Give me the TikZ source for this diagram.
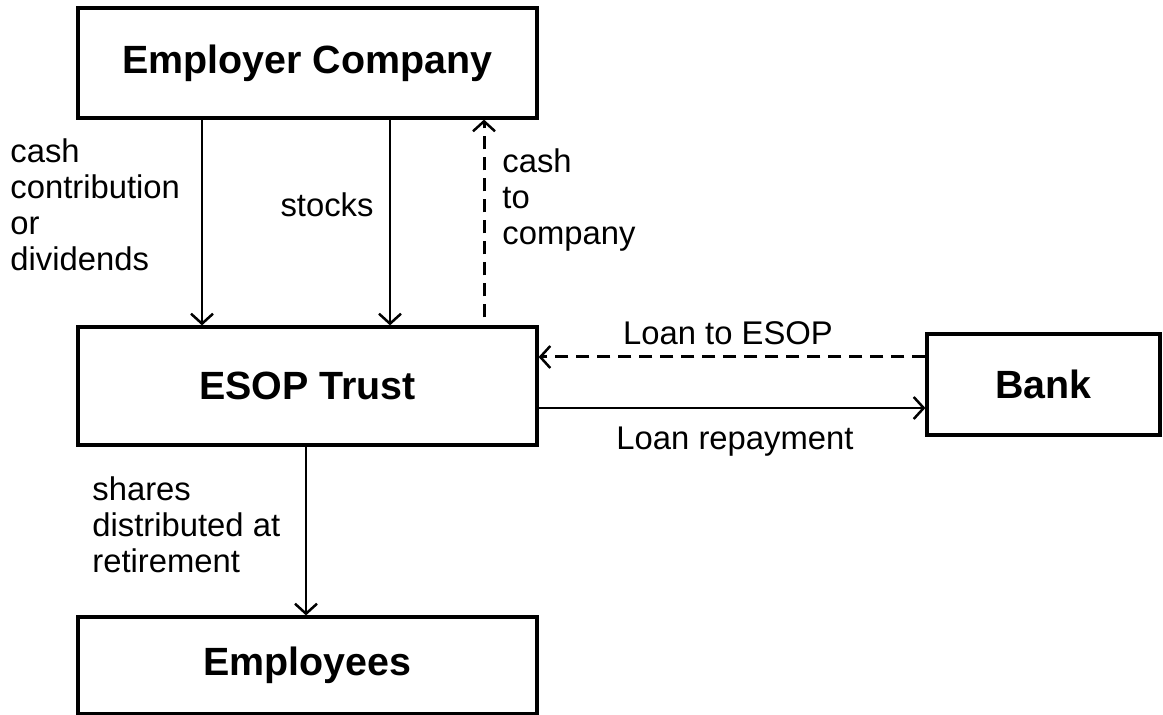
\documentclass[tikz,border=0pt]{standalone}
\usepackage{fontspec}
\setmainfont{Liberation Sans}
\usepackage{tikz}
\usetikzlibrary{positioning}
\usetikzlibrary{arrows.meta}

\tikzset{
  party/.style={draw, line width=1.6pt, inner sep=0pt, minimum width=229.5pt,
    font=\fontsize{19.7}{22}\selectfont\bfseries},
  flow/.style={line width=1.25pt, ->},
  loanflow/.style={flow, line width=1.5pt, dash pattern=on 6.5pt off 4pt},
  lbl/.style={inner sep=0pt, align=left, font=\fontsize{16.4}{18}\selectfont},
  >={Straight Barb[length=5pt, width=11pt, line width=1.25pt]},
}

\begin{document}
\begin{tikzpicture}[x=0.5pt, y=-0.5pt]
  \useasboundingbox (0,0) rectangle (1163,715);

  % Boxes
  \node[party, minimum height=55pt] (employer) at (307.5,63) {Employer Company};
  \node[party, minimum height=59pt] (trust) at (307.5,386) {ESOP Trust};
  \node[party, minimum width=116.5pt, minimum height=50.5pt] (bank) at (1043.5,384.5) {Bank};
  \node[party, minimum height=48.5pt] (employees) at (307.5,665.5) {Employees};

  % Columns and rows the flows run along
  \coordinate (cashcol) at (202,0);
  \coordinate (stockcol) at (390,0);
  \coordinate (backcol) at (484,0);
  \coordinate (sharecol) at (306,0);
  \coordinate (loanrow) at (0,357);
  \coordinate (payrow) at (0,408);

  % Flows between the parties
  \draw[flow] (employer.south -| cashcol) -- (trust.north -| cashcol);
  \draw[flow] (employer.south -| stockcol) -- (trust.north -| stockcol);
  \draw[loanflow, shorten <=4pt] (trust.north -| backcol) -- (employer.south -| backcol);
  \draw[loanflow] (bank.west |- loanrow) -- (trust.east |- loanrow);
  \draw[flow] (trust.east |- payrow) -- (bank.west |- payrow);
  \draw[flow] (trust.south -| sharecol) -- (employees.north -| sharecol);

  % Labels
  \node[lbl, anchor=west] (cashlbl) at (10,205) {cash\\contribution\\or\\dividends};
  \node[lbl] (stocklbl) at (327,205) {stocks};
  \node[lbl, anchor=west] (backlbl) at (502,200) {cash\\to\\company};
  \node[lbl] (loanlbl) at (728,333) {Loan to ESOP};
  \node[lbl] (paylbl) at (735,442) {Loan repayment};
  \node[lbl, anchor=west] (sharelbl) at (92,525) {shares\\distributed at\\retirement};
\end{tikzpicture}
\end{document}
